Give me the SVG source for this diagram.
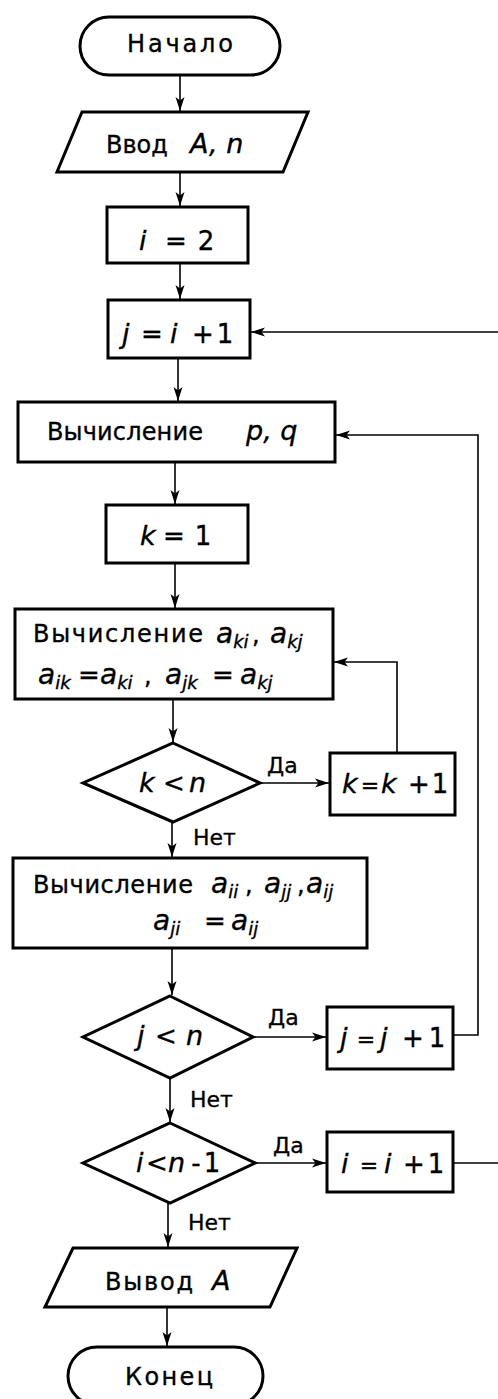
<svg xmlns="http://www.w3.org/2000/svg" width="498" height="1399" viewBox="0 0 498 1399">
<style>
.shape{fill:#fff;stroke:#000;stroke-width:3}
.t{font-family:"DejaVu Sans","Liberation Sans",sans-serif;font-size:24px;fill:#000;stroke:#000;stroke-width:0.35}
.o{font-family:"DejaVu Sans","Liberation Sans",sans-serif;font-size:26px;fill:#000;text-anchor:middle;stroke:#000;stroke-width:0.35}
.e{font-size:22px}
.m{font-family:"DejaVu Sans","Liberation Sans",sans-serif;font-style:italic;font-size:27px;fill:#000;stroke:#000;stroke-width:0.35}
.a{font-family:"DejaVu Sans","Liberation Sans",sans-serif;font-style:italic;font-size:28px;fill:#000;stroke:#000;stroke-width:0.35}
.s{font-size:18px}
.l{font-family:"DejaVu Sans","Liberation Sans",sans-serif;font-size:22px;fill:#000;stroke:#000;stroke-width:0.3}
.c{fill:none;stroke:#000;stroke-width:1.6}
.ar{marker-end:url(#ah)}
</style>
<defs>
<marker id="ah" markerUnits="userSpaceOnUse" markerWidth="15" markerHeight="10" refX="14" refY="5" orient="auto">
<path d="M0,0.5 L14,5 L0,9.5 L3.5,5 z" fill="#000"/>
</marker>
</defs>
<rect width="498" height="1399" fill="#fff"/>
<g id="connectors">
<path class="c ar" d="M180,75 V111"/>
<path class="c ar" d="M180,172 V206"/>
<path class="c ar" d="M180,263 V299"/>
<path class="c ar" d="M178,358 V401"/>
<path class="c ar" d="M175,462 V504"/>
<path class="c ar" d="M175,563 V608"/>
<path class="c ar" d="M173,699 V742"/>
<path class="c ar" d="M260,783 H329"/>
<path class="c ar" d="M397,753 V662 H334"/>
<path class="c ar" d="M172,822 V857"/>
<path class="c ar" d="M172,948 V995"/>
<path class="c ar" d="M253,1037 H326"/>
<path class="c ar" d="M453,1035 H478 V435 H336"/>
<path class="c ar" d="M170,1078 V1122"/>
<path class="c ar" d="M255,1163 H326"/>
<path class="c ar" d="M453,1163 H499 V332 H251"/>
<path class="c ar" d="M168,1203 V1247"/>
<path class="c ar" d="M167,1307 V1346"/>
</g>
<g id="start">
<rect class="shape" x="80" y="17" width="200" height="58" rx="29"/>
<text class="t" x="127" y="52" textLength="106" lengthAdjust="spacing">Начало</text>
</g>
<g id="input">
<polygon class="shape" points="82,112 308,112 283,172 57,172"/>
<text class="t" x="106" y="153">Ввод</text>
<text class="m" x="190" y="153">A, n</text>
</g>
<g id="i_init">
<rect class="shape" x="107" y="207" width="141" height="56"/>
<text class="m" x="139" y="250">i</text>
<text class="o" x="176" y="250">=</text>
<text class="o" x="206" y="250">2</text>
</g>
<g id="j_init">
<rect class="shape" x="108" y="300" width="142" height="58"/>
<text class="m" x="122" y="343">j</text>
<text class="o" x="152" y="343">=</text>
<text class="m" x="170" y="343">i</text>
<text class="o" x="203" y="343">+</text>
<text class="o" x="225" y="343">1</text>
</g>
<g id="calc_pq">
<rect class="shape" x="18" y="402" width="317" height="60"/>
<text class="t" x="47" y="440" textLength="156" lengthAdjust="spacing">Вычисление</text>
<text class="m" x="246" y="440">p, q</text>
</g>
<g id="k_init">
<rect class="shape" x="106" y="505" width="142" height="58"/>
<text class="m" x="140" y="545">k</text>
<text class="o" x="174" y="545">=</text>
<text class="o" x="203" y="545">1</text>
</g>
<g id="calc_aki">
<rect class="shape" x="15" y="609" width="318" height="90"/>
<text class="t" x="33" y="642" textLength="170" lengthAdjust="spacing">Вычисление</text>
<text class="a" x="216" y="643">a<tspan class="s" dy="5">ki</tspan></text>
<text class="t" x="252" y="643">,</text>
<text class="a" x="270" y="643">a<tspan class="s" dy="5">kj</tspan></text>
<text class="a" x="38" y="684">a<tspan class="s" dy="5">ik</tspan></text>
<text class="o" x="89" y="684">=</text>
<text class="a" x="100" y="684">a<tspan class="s" dy="5">ki</tspan></text>
<text class="t" x="144" y="684">,</text>
<text class="a" x="165" y="684">a<tspan class="s" dy="5">jk</tspan></text>
<text class="o" x="223" y="684">=</text>
<text class="a" x="240" y="684">a<tspan class="s" dy="5">kj</tspan></text>
</g>
<g id="dec_k">
<polygon class="shape" points="173,743 260,783 173,822 83,783"/>
<text class="m" x="139" y="792">k</text>
<text class="o" x="174" y="792">&lt;</text>
<text class="m" x="189" y="792">n</text>
<text class="l" x="267" y="773">Да</text>
<text class="l" x="193" y="845">Нет</text>
</g>
<g id="k_inc">
<rect class="shape" x="330" y="753" width="125" height="62"/>
<text class="m" x="342" y="793">k</text>
<text class="o e" x="370" y="793">=</text>
<text class="m" x="381" y="793">k</text>
<text class="o" x="419" y="793">+</text>
<text class="o" x="440" y="793">1</text>
</g>
<g id="calc_aii">
<rect class="shape" x="13" y="858" width="354" height="90"/>
<text class="t" x="33" y="893" textLength="160" lengthAdjust="spacing">Вычисление</text>
<text class="a" x="211" y="893">a<tspan class="s" dy="5">ii</tspan></text>
<text class="t" x="245" y="893">,</text>
<text class="a" x="264" y="893">a<tspan class="s" dy="5">jj</tspan></text>
<text class="t" x="297" y="893">,</text>
<text class="a" x="306" y="893">a<tspan class="s" dy="5">ij</tspan></text>
<text class="a" x="153" y="930">a<tspan class="s" dy="5">ji</tspan></text>
<text class="o" x="215" y="930">=</text>
<text class="a" x="231" y="930">a<tspan class="s" dy="5">ij</tspan></text>
</g>
<g id="dec_j">
<polygon class="shape" points="170,996 253,1037 170,1078 83,1037"/>
<text class="m" x="137" y="1045">j</text>
<text class="o" x="166" y="1045">&lt;</text>
<text class="m" x="186" y="1045">n</text>
<text class="l" x="268" y="1025">Да</text>
<text class="l" x="190" y="1107">Нет</text>
</g>
<g id="j_inc">
<rect class="shape" x="327" y="1007" width="126" height="62"/>
<text class="m" x="340" y="1047">j</text>
<text class="o e" x="366" y="1047">=</text>
<text class="m" x="380" y="1047">j</text>
<text class="o" x="413" y="1047">+</text>
<text class="o" x="437" y="1047">1</text>
</g>
<g id="dec_i">
<polygon class="shape" points="170,1123 255,1163 170,1203 83,1163"/>
<text class="m" x="136" y="1172">i</text>
<text class="o" x="157" y="1172">&lt;</text>
<text class="m" x="168" y="1172">n</text>
<text class="o" x="196" y="1172">-</text>
<text class="o" x="212" y="1172">1</text>
<text class="l" x="273" y="1153">Да</text>
<text class="l" x="188" y="1230">Нет</text>
</g>
<g id="i_inc">
<rect class="shape" x="327" y="1132" width="126" height="60"/>
<text class="m" x="341" y="1173">i</text>
<text class="o e" x="369" y="1173">=</text>
<text class="m" x="384" y="1173">i</text>
<text class="o" x="414" y="1173">+</text>
<text class="o" x="436" y="1173">1</text>
</g>
<g id="output">
<polygon class="shape" points="73,1248 297,1248 270,1307 45,1307"/>
<text class="t" x="105" y="1290" textLength="88" lengthAdjust="spacing">Вывод</text>
<text class="m" x="212" y="1290">A</text>
</g>
<g id="end">
<rect class="shape" x="68" y="1347" width="195" height="58" rx="29"/>
<text class="t" x="125" y="1385" textLength="88" lengthAdjust="spacing">Конец</text>
</g>
</svg>
